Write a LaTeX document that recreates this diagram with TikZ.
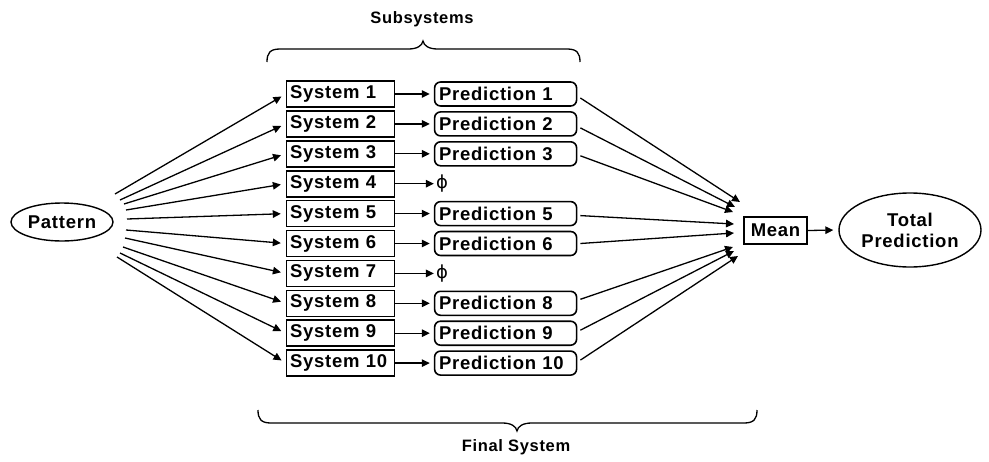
\documentclass[tikz,border=0pt]{standalone}
\usepackage{fontspec}
\setmainfont{Liberation Sans}[LetterSpace=4]
\newfontfamily\dejavu{DejaVu Sans}
\usetikzlibrary{arrows.meta,calc,shapes.geometric}
\begin{document}
\begin{tikzpicture}[x=1pt,y=-1pt,
 txt/.style={font=\bfseries\fontsize{18.5}{21}\selectfont},
 sysbox/.style={txt,draw,line width=1.6pt,anchor=west,text width=101pt,align=left,inner xsep=3.5pt,inner ysep=0pt,minimum height=26pt},
 predbox/.style={txt,draw,line width=1.6pt,rounded corners=6pt,anchor=west,text width=133pt,align=left,inner xsep=4.5pt,inner ysep=0pt,minimum height=24pt},
 arr/.style={line width=1.3pt,-{Triangle[length=8pt,width=7.5pt]}},
 brace/.style={line width=1.3pt},
 lbl/.style={font=\bfseries\fontsize{16.5}{18}\selectfont},
 ]
\useasboundingbox (0,0) rectangle (989,461);
% systems
\foreach \i in {1,...,10}{
  \node[sysbox] (s\i) at (285.8,{94+29.9*(\i-1)}) {System \i};
}
\foreach \i in {1,2,3,5,6,8,9,10}{
  \node[predbox] (p\i) at (433.8,{94+29.9*(\i-1)}) {Prediction \i};
  \draw[arr,shorten >=4pt] (s\i.east) -- (p\i.west);
}
\foreach \i in {4,7}{
  \node[font=\dejavu\fontsize{18}{20}\selectfont,inner sep=0pt] (ph\i) at (442,{94+29.9*(\i-1)}) {ϕ};
  \draw[arr,shorten >=2pt] (s\i.east) -- (ph\i.west);
}
% pattern
\node[txt,draw,ellipse,line width=1.4pt,minimum width=102pt,minimum height=38pt,inner sep=0pt] (pat) at (62,222) {Pattern};
\coordinate (c1) at (115,194);
\coordinate (c2) at (120,200);
\coordinate (c3) at (124,204);
\coordinate (c4) at (126,210);
\coordinate (c5) at (127,219);
\coordinate (c6) at (126,230);
\coordinate (c7) at (125,238);
\coordinate (c8) at (123,247);
\coordinate (c9) at (120,253);
\coordinate (c10) at (117,257);
\foreach \i in {1,...,10}{
  \draw[arr,shorten >=5pt] (c\i) -- (s\i.west);
}
% mean
\node[txt,draw,line width=1.6pt,minimum width=63pt,minimum height=27pt,inner sep=0pt] (mean) at (775.5,230.5) {Mean};
\node[txt,draw,ellipse,line width=1.4pt,minimum width=142pt,minimum height=74pt,inner sep=0pt,align=center] (tot) at (910,230) {Total\\Prediction};
\draw[arr,shorten >=5pt] (mean.east) -- (tot.west);
\coordinate (m1) at (740,202);
\coordinate (m2) at (735,207);
\coordinate (m3) at (733,212);
\coordinate (m5) at (734,224);
\coordinate (m6) at (734,233);
\coordinate (m8) at (733,247);
\coordinate (m9) at (734,251);
\coordinate (m10) at (738,256);
\foreach \i/\d in {1/4,2/4,3/2,5/2,6/0,8/-4,9/-3,10/-3}{
  \draw[arr] ($(p\i.east)+(3,\d)$) -- (m\i);
}
% braces
\draw[brace] (267,62) .. controls (267,53) and (270,49) .. (280,49) -- (408,49)
  .. controls (417,49) and (422,46) .. (423,41)
  .. controls (424,46) and (429,49) .. (438,49) -- (567,49)
  .. controls (577,49) and (580,53) .. (580,62);
\draw[brace] (258,410) .. controls (258,419) and (261,423) .. (271,423) -- (502,423)
  .. controls (511,423) and (516,426) .. (517,431)
  .. controls (518,426) and (523,423) .. (532,423) -- (744,423)
  .. controls (754,423) and (757,419) .. (757,410);
\node[lbl] (sub) at (422,19) {Subsystems};
\node[lbl] (fin) at (516,447) {Final System};
\end{tikzpicture}
\end{document}
